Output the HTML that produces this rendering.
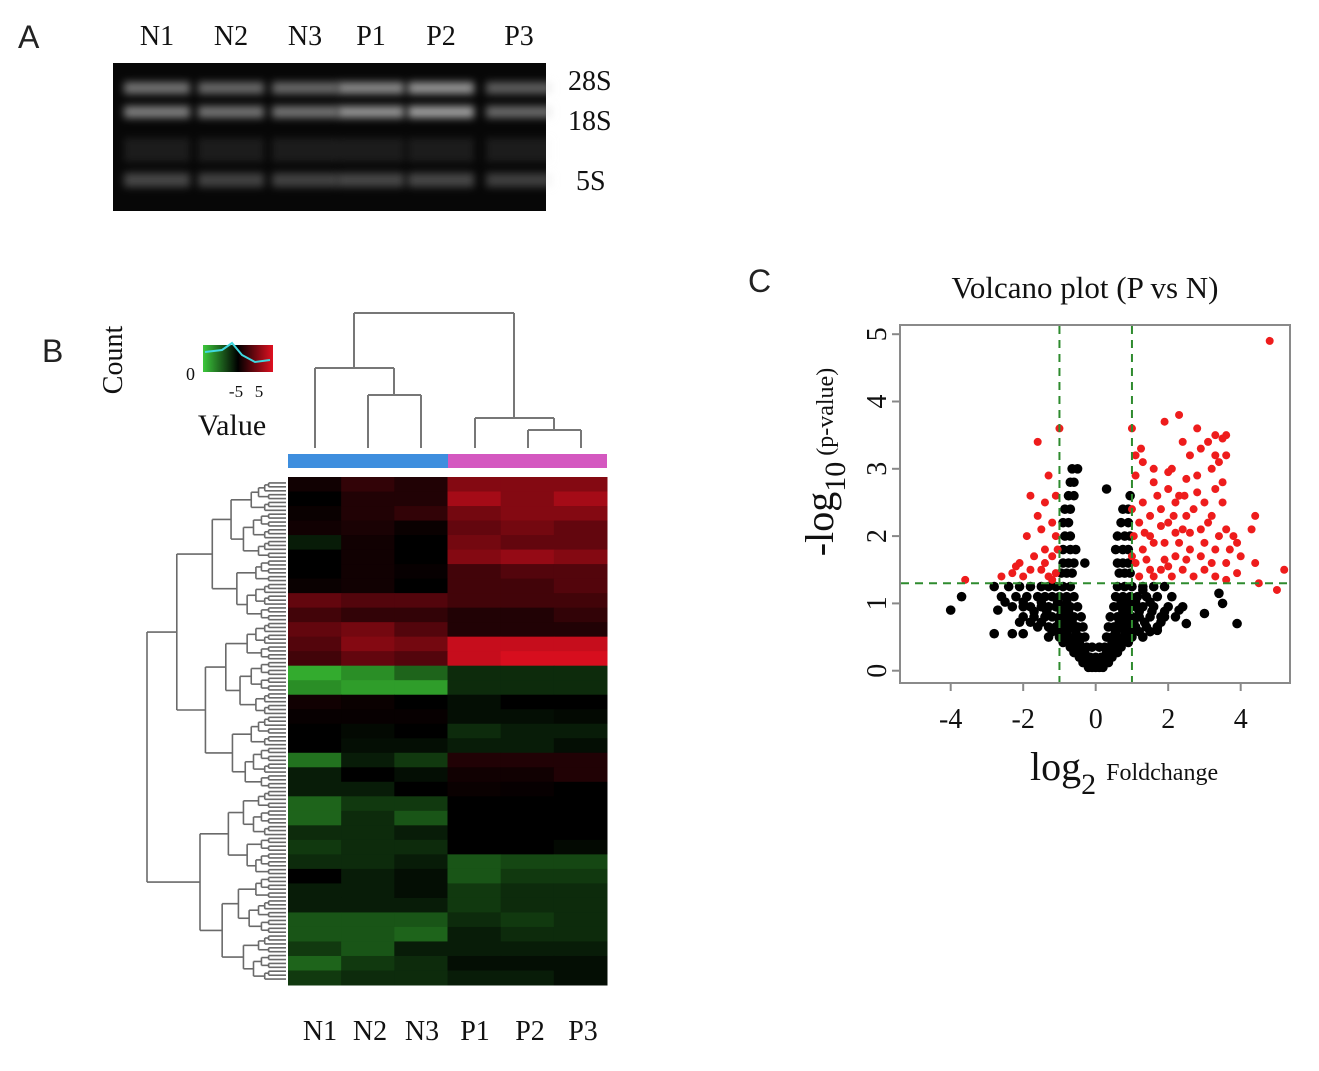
<!DOCTYPE html>
<html><head><meta charset="utf-8"><style>
body{margin:0;background:#fff}
svg{display:block}
.serif{font-family:"Liberation Serif",serif;fill:#111}
.sans{font-family:"Liberation Sans",sans-serif;fill:#222}
</style></head><body>
<svg id="fig" width="1319" height="1071" viewBox="0 0 1319 1071" xmlns="http://www.w3.org/2000/svg">
<defs>
<filter id="blur" x="-20%" y="-80%" width="140%" height="260%"><feGaussianBlur stdDeviation="4"/></filter>
<linearGradient id="keygrad" x1="0" x2="1" y1="0" y2="0">
<stop offset="0" stop-color="#3cc83c"/><stop offset="0.5" stop-color="#000"/><stop offset="1" stop-color="#e01020"/></linearGradient>
</defs>
<!-- Panel A -->
<text class="sans" x="18" y="48" font-size="32">A</text>
<rect x="113" y="63" width="433" height="148" fill="#070707"/>
<g id="gel"></g>
<g class="serif" font-size="28">
<text x="157" y="45" text-anchor="middle">N1</text><text x="231" y="45" text-anchor="middle">N2</text>
<text x="305" y="45" text-anchor="middle">N3</text><text x="371" y="45" text-anchor="middle">P1</text>
<text x="441" y="45" text-anchor="middle">P2</text><text x="519" y="45" text-anchor="middle">P3</text>
</g>
<g class="serif" font-size="28">
<text x="568" y="90">28S</text><text x="568" y="130">18S</text><text x="576" y="190">5S</text>
</g>
<!-- Panel B -->
<text class="sans" x="42" y="362" font-size="32">B</text>
<text class="serif" font-size="28" transform="translate(122,360) rotate(-90)" text-anchor="middle">Count</text>
<rect x="203" y="345" width="70" height="27" fill="url(#keygrad)"/>
<polyline points="205,352 222,350 232,343 242,355 255,362 270,360" fill="none" stroke="#40d8e0" stroke-width="2"/>
<text class="serif" x="186" y="380" font-size="18">0</text>
<text class="serif" x="236" y="397" font-size="17" text-anchor="middle">-5</text>
<text class="serif" x="259" y="397" font-size="17" text-anchor="middle">5</text>
<text class="serif" x="232" y="435" font-size="30" text-anchor="middle">Value</text>
<g id="coldendro" stroke="#777" stroke-width="2" fill="none"></g>
<rect x="288" y="454" width="160" height="14" fill="#3e8ede"/>
<rect x="448" y="454" width="159" height="14" fill="#d458c0"/>
<g id="heat"></g>
<g id="rowdendro" stroke="#6a6a6a" stroke-width="1.6" fill="none"></g>
<g id="collabels" class="serif" font-size="28"></g>
<!-- Panel C -->
<text class="sans" x="748" y="292" font-size="32">C</text>
<text class="serif" x="1085" y="298" font-size="31" text-anchor="middle">Volcano plot (P vs N)</text>
<g id="volcano"></g>
<rect x="900" y="325" width="390" height="358" fill="none" stroke="#8a8a8a" stroke-width="2"/>
<text class="serif" transform="translate(833,462) rotate(-90)" text-anchor="middle"><tspan font-size="40">-log</tspan><tspan font-size="30" dy="12">10</tspan><tspan font-size="24" dy="-12"> (p-value)</tspan></text>
<text class="serif" x="1030" y="780"><tspan font-size="40">log</tspan><tspan font-size="30" dy="14">2</tspan><tspan font-size="24" dy="-14" dx="10">Foldchange</tspan></text>
</svg>
<script>
const NS="http://www.w3.org/2000/svg";
function mk(tag,attrs,parent){const e=document.createElementNS(NS,tag);for(const k in attrs)e.setAttribute(k,attrs[k]);parent.appendChild(e);return e;}

/* ---------- Gel ---------- */
const gelLanes=["N1","N2","N3","P1","P2","P3"];
const gelLaneX=[157,231,305,371,441,519];
const band28=[0.5,0.45,0.45,0.6,0.65,0.4];
const band18=[0.55,0.5,0.5,0.65,0.7,0.45];
const band5=[0.3,0.28,0.28,0.3,0.3,0.26];
const gel=document.getElementById('gel');
gelLanes.forEach((l,i)=>{
  const x=gelLaneX[i]-33;
  [[88,band28[i],12],[112,band18[i],12],[180,band5[i],14],[150,0.1,24]].forEach((b,j)=>{
    const r=mk('rect',{x:x,y:b[0]-b[2]/2,width:66,height:b[2],fill:`rgba(220,220,220,${b[1]})`,filter:'url(#blur)'},gel);
    
    
  });
});

/* ---------- Heatmap ---------- */
const heatSamples=["N1","N2","N3","P1","P2","P3"];
const heatRows=[
[0.5,1.5,1,4,4,4],[0,1,1,5,4,5],[0.3,1,1.5,3.5,4,4],[0.5,0.8,0.3,3,3.5,3],[-1,0.5,0,3.5,3,3],
[0,0.5,0,4,4.5,4],[0,0.5,0.2,2,2.5,2.5],[0.3,0.5,0,2,2,2.5],[3,2.5,2.5,2,2,2],[2,1.5,1.5,1,1,1.5],
[3,3.5,2.5,1,1,1],[2.5,4,3.5,6,6,6],[2,3,2.5,6,6.5,6.5],[-6,-5,-3.5,-1.5,-1.5,-1.5],[-5,-5.5,-5.5,-1.5,-1.5,-1.5],
[0.5,0.3,0,-0.5,0,0],[0.2,0.2,0.2,-0.5,-0.5,-0.3],[0,-0.3,0,-1.5,-1,-1],[0,-0.5,-0.5,-1,-1,-0.5],[-4,-1,-2,1,1,1],
[-1,0,-0.5,0.5,0.5,1],[-1,-1,0,0.3,0.2,0],[-3.5,-2,-2,0,0,0],[-3.5,-1.5,-3,0,0,0],[-1.5,-1.5,-1,0,0,0],
[-2,-1.5,-1.5,0,0,-0.3],[-1.5,-1.5,-1,-3,-2.5,-2.5],[0,-1,-0.5,-3,-2,-2],[-1,-1,-0.5,-2,-1.5,-1.5],[-1,-1,-1,-2,-1.5,-1.5],
[-3,-3,-3,-1.5,-2,-1.5],[-3,-3,-3.5,-1,-1.5,-1.5],[-2,-3,-1,-1,-1,-1],[-3.5,-2,-1.5,-0.5,-0.5,-0.5],[-2,-1.5,-1.5,-1,-1,-0.5]
];
const HX0=288,HX1=607,HY0=477,HY1=985;
const cw=(HX1-HX0)/heatSamples.length, rh=(HY1-HY0)/heatRows.length;
function col(v){const t=Math.min(Math.abs(v)/6.5,1);
  return v>=0?`rgb(${Math.round(215*t)},${Math.round(14*t)},${Math.round(30*t)})`:`rgb(${Math.round(55*t)},${Math.round(185*t)},${Math.round(50*t)})`;}
const heat=document.getElementById('heat');
heatRows.forEach((row,r)=>row.forEach((v,c)=>{
  const e=mk('rect',{x:HX0+c*cw,y:HY0+r*rh,width:cw+0.5,height:rh+0.5,fill:col(v)},heat);
  
  
}));
const cl=document.getElementById('collabels');
const labX=[320,370,422,475,530,583];
heatSamples.forEach((s,i)=>{const t=mk('text',{x:labX[i],y:1040,'text-anchor':'middle'},cl);t.textContent=s;
  
  });

/* column dendrogram */
const cd=document.getElementById('coldendro');
[[315,448,315,368],[368,448,368,395],[421,448,421,395],[368,395,421,395],[394,395,394,368],[315,368,394,368],
 [354,368,354,313],[528,448,528,430],[581,448,581,430],[528,430,581,430],[554,430,554,418],[475,448,475,418],[475,418,554,418],
 [514,418,514,313],[354,313,514,313]].forEach(s=>{
  const l=mk('line',{x1:s[0],y1:s[1],x2:s[2],y2:s[3]},cd);
  
  });

/* row dendrogram */
const rd=document.getElementById('rowdendro');
const NLEAF=128;
const leafY=i=>HY0+4+(i+0.5)*((HY1-HY0-8)/NLEAF);
const splits=[0.62,0.45,0.55,0.4,0.6,0.5];
function tree(lo,hi,depth){
  if(hi-lo<=1){return {y:leafY(lo),x:286};}
  const f=splits[depth%splits.length];
  let mid=lo+Math.max(1,Math.round((hi-lo)*f));
  if(mid>=hi)mid=hi-1;
  const a=tree(lo,mid,depth+1),b=tree(mid,hi,depth+1);
  const n=hi-lo;
  const x=286-139*Math.pow(n/NLEAF,0.5);
  mk('line',{x1:x,y1:a.y,x2:x,y2:b.y},rd);
  mk('line',{x1:x,y1:a.y,x2:a.x,y2:a.y},rd);
  mk('line',{x1:x,y1:b.y,x2:b.x,y2:b.y},rd);
  return {x:x,y:(a.y+b.y)/2};
}
tree(0,NLEAF,0);

/* ---------- Volcano ---------- */
const blackX=[-0.2,-0.1,0,0.1,0.2,-0.45,-0.3,-0.15,0,0.15,0.3,0.45,-0.7,-0.55,-0.4,-0.25,-0.1,0.1,0.25,0.4,0.55,0.7,
-1.3,-1.0,-0.8,-0.6,-0.45,-0.3,0.3,0.45,0.6,0.8,1.0,1.3,
-1.6,-1.3,-1.1,-0.9,-0.7,-0.5,-0.35,0.35,0.5,0.7,0.9,1.1,1.4,1.7,
-2.0,-1.7,-1.4,-1.2,-1.0,-0.8,-0.6,-0.4,0.4,0.6,0.8,1.0,1.2,1.5,1.8,2.2,
-2.3,-2.0,-1.8,-1.5,-1.3,-1.1,-0.9,-0.7,-0.5,0.5,0.7,0.9,1.1,1.3,1.6,2.0,2.4,
-2.6,-2.2,-1.9,-1.6,-1.4,-1.2,-1.0,-0.8,-0.6,0.55,0.75,0.95,1.15,1.4,1.7,2.1,
-2.8,-2.4,-2.1,-1.8,-1.5,-1.3,-1.1,-0.9,-0.7,0.6,0.8,1.0,1.3,1.6,1.9,
-0.95,-0.8,-0.65,0.65,0.8,0.95,-0.9,-0.75,-0.6,0.6,0.75,0.9,-0.9,-0.7,-0.55,0.55,0.75,0.9,
-0.85,-0.7,0.6,0.8,0.95,-0.9,-0.75,0.7,0.9,-0.85,-0.7,0.75,0.9,-0.75,-0.6,0.95,-0.7,-0.6,-0.65,-0.5,
-4,-3.7,-2.8,-2.3,-2.0,-2.7,1.9,2.3,2.5,3.0,3.5,3.9,1.7,0.3,-0.3,1.3,3.4,
-0.35,-0.2,-0.05,0.05,0.2,0.35,-0.6,-0.45,-0.3,0.3,0.45,0.6,-0.9,-0.75,-0.6,-0.45,0.45,0.6,0.75,0.9,
-1.2,-1.0,-0.8,-0.55,0.55,0.8,1.0,1.2,1.5,-1.5,-1.8,-2.1,-1.0,-0.85,-0.65,0.65,0.85,1.05,1.35,1.8,
-1.7,-1.35,-0.95,-0.75,0.75,0.9,1.2,1.55,1.9,-2.5,-2.0,-1.5,-1.05,-0.8,0.7,0.9,1.1,1.5];
const blackY=[0.05,0.05,0.05,0.05,0.05,0.2,0.2,0.2,0.2,0.2,0.2,0.2,0.35,0.35,0.35,0.35,0.35,0.35,0.35,0.35,0.35,0.35,
0.5,0.5,0.5,0.5,0.5,0.5,0.5,0.5,0.5,0.5,0.5,0.5,
0.65,0.65,0.65,0.65,0.65,0.65,0.65,0.65,0.65,0.65,0.65,0.65,0.65,0.65,
0.8,0.8,0.8,0.8,0.8,0.8,0.8,0.8,0.8,0.8,0.8,0.8,0.8,0.8,0.8,0.8,
0.95,0.95,0.95,0.95,0.95,0.95,0.95,0.95,0.95,0.95,0.95,0.95,0.95,0.95,0.95,0.95,0.95,
1.1,1.1,1.1,1.1,1.1,1.1,1.1,1.1,1.1,1.1,1.1,1.1,1.1,1.1,1.1,1.1,
1.25,1.25,1.25,1.25,1.25,1.25,1.25,1.25,1.25,1.25,1.25,1.25,1.25,1.25,1.25,
1.45,1.45,1.45,1.45,1.45,1.45,1.6,1.6,1.6,1.6,1.6,1.6,1.8,1.8,1.8,1.8,1.8,1.8,
2.0,2.0,2.0,2.0,2.0,2.2,2.2,2.2,2.2,2.4,2.4,2.4,2.4,2.6,2.6,2.6,2.8,2.8,3.0,3.0,
0.9,1.1,0.55,0.55,0.55,0.9,0.8,0.9,0.7,0.85,1.0,0.7,0.6,2.7,1.6,1.2,1.15,
0.12,0.12,0.12,0.12,0.12,0.12,0.27,0.27,0.27,0.27,0.27,0.27,0.42,0.42,0.42,0.42,0.42,0.42,0.42,0.42,
0.58,0.58,0.58,0.58,0.58,0.58,0.58,0.58,0.58,0.72,0.72,0.72,0.72,0.72,0.72,0.72,0.72,0.72,0.72,0.72,
0.88,0.88,0.88,0.88,0.88,0.88,0.88,0.88,0.88,1.02,1.02,1.02,1.02,1.02,1.02,1.02,1.02,1.02];
const redX=[-3.6,-2.6,-2.3,-2.0,-1.8,-1.5,-1.3,-1.1,-2.1,-1.7,-1.4,-1.2,-1.9,-1.5,-1.2,-1.4,-1.1,-1.6,-1.3,-1.1,-1.4,-1.05,-1.2,-1.6,-1.0,-1.8,-2.2,
1.0,1.1,1.3,1.9,2.3,2.1,1.6,2.4,2.6,2.9,3.1,3.3,3.5,3.4,3.6,3.2,2.8,2.5,3.3,3.5,3.0,2.2,1.6,1.3,1.2,1.5,1.8,2.0,2.4,2.7,2.9,3.2,3.6,3.9,4.4,4.3,4.0,3.6,3.3,3.0,2.6,2.2,1.9,1.6,1.3,1.1,1.2,1.5,1.8,2.1,2.4,2.7,3.0,3.3,3.6,4.5,4.4,5.2,5.0,4.8,2.8,3.6,1.5,1.7,2.0,2.3,2.5,2.8,1.4,1.9,2.3,2.5,2.9,3.4,3.7,3.1,1.1,1.0,1.05,1.0,1.25,2.6,3.5,3.8,3.9,2.0,1.8,2.15,2.45,3.3,1.35,1.6,2.0,2.2,3.2];
const redY=[1.35,1.4,1.45,1.4,1.5,1.5,1.4,1.45,1.6,1.7,1.8,1.7,2.0,2.1,2.2,2.5,2.6,2.3,2.9,2.0,1.6,1.8,1.35,3.4,3.6,2.6,1.55,
3.6,3.2,3.1,3.7,3.8,3.0,3.0,3.4,3.2,3.3,3.4,3.5,3.45,3.1,3.2,3.0,2.9,2.85,2.7,2.8,2.5,2.5,2.8,2.5,2.2,2.3,2.4,2.2,2.1,2.4,2.1,2.3,2.1,1.9,2.3,2.1,1.7,1.6,1.8,1.9,1.8,1.7,1.9,1.9,1.8,1.6,1.4,1.5,1.5,1.4,1.5,1.4,1.5,1.4,1.35,1.3,1.6,1.5,1.2,4.9,3.6,3.5,2.0,2.6,2.7,2.6,2.3,2.65,1.65,1.65,1.9,1.65,1.7,2.0,1.8,2.2,2.9,2.4,2.0,1.7,3.3,2.05,2.5,2.0,1.45,2.95,2.15,2.3,2.6,3.2,2.05,1.4,1.55,2.05,1.6];
const xTicks=[-4,-2,0,2,4];
const yTicks=[0,1,2,3,4,5];
const fcCut=1, pCut=1.3;
const X=v=>1095.7+v*36.25, Y=v=>670.7-v*67.3;
const vg=document.getElementById('volcano');
blackX.forEach((x,i)=>{const c=mk('circle',{cx:X(x),cy:Y(blackY[i]),r:4.8,fill:'#000'},vg);
  
  });
redX.forEach((x,i)=>{const c=mk('circle',{cx:X(x),cy:Y(redY[i]),r:4,fill:'#ee1c1c'},vg);
  
  });
[[X(-fcCut),326,X(-fcCut),682],[X(fcCut),326,X(fcCut),682],[901,Y(pCut),1289,Y(pCut)]].forEach(s=>{
  const l=mk('line',{x1:s[0],y1:s[1],x2:s[2],y2:s[3],stroke:'#2e8b2e','stroke-width':2,'stroke-dasharray':'8,6'},vg);
  
  });
xTicks.forEach(t=>{
  const l=mk('line',{x1:X(t),y1:683,x2:X(t),y2:691,stroke:'#888','stroke-width':2},vg);
  
  
  const tx=mk('text',{x:X(t),y:728,'text-anchor':'middle','font-size':28,class:'serif'},vg);tx.textContent=t;
  
  });
yTicks.forEach(t=>{
  const l=mk('line',{x1:892,y1:Y(t),x2:900,y2:Y(t),stroke:'#888','stroke-width':2},vg);
  
  
  const tx=mk('text',{transform:`translate(886,${Y(t)}) rotate(-90)`,'text-anchor':'middle','font-size':28,class:'serif'},vg);tx.textContent=t;
  
  });
</script>
</body></html>
